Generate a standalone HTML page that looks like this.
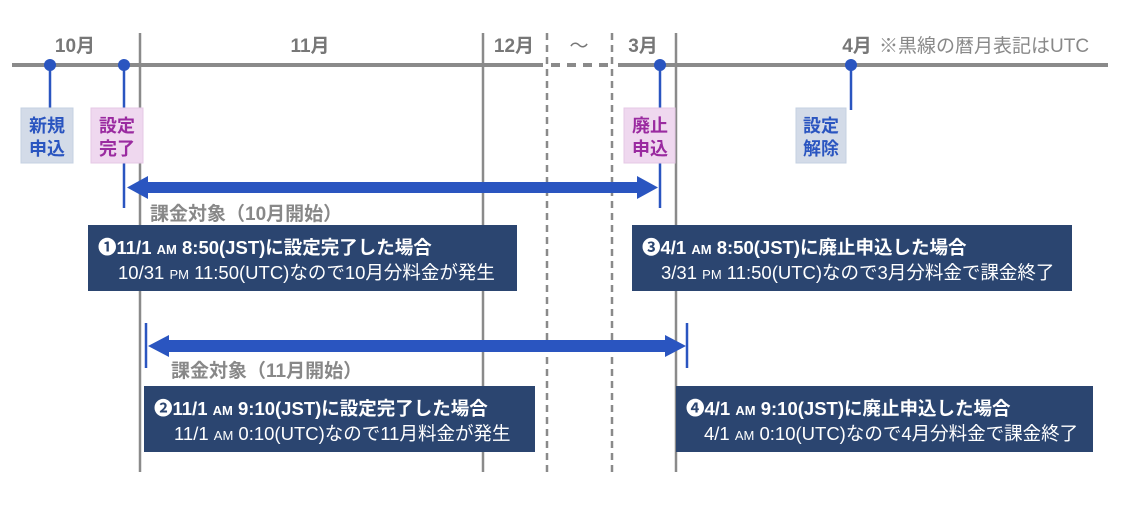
<!DOCTYPE html>
<html><head><meta charset="utf-8">
<style>
html,body{margin:0;padding:0;background:#fff;}
svg{display:block;}
text{font-family:"Liberation Sans","Noto Sans CJK JP",sans-serif;}
</style></head><body>
<svg width="1130" height="521" viewBox="0 0 1130 521" xmlns="http://www.w3.org/2000/svg">
<rect width="1130" height="521" fill="#fff"/>
<g stroke="#8a8a8a" stroke-width="2.5">
<line x1="140" y1="33" x2="140" y2="472"/>
<line x1="483" y1="33" x2="483" y2="472"/>
<line x1="676" y1="33" x2="676" y2="472"/>
<line x1="547" y1="33" x2="547" y2="472" stroke-dasharray="7,5"/>
<line x1="612" y1="33" x2="612" y2="472" stroke-dasharray="7,5"/>
</g>
<g stroke="#8a8a8a" stroke-width="4">
<line x1="12" y1="65" x2="543" y2="65"/>
<line x1="551" y1="65" x2="610" y2="65" stroke-dasharray="9,7"/>
<line x1="618" y1="65" x2="1108" y2="65"/>
</g>
<g fill="#777" font-size="19" font-weight="bold" text-anchor="middle">
<text x="75" y="52">10月</text>
<text x="310" y="52">11月</text>
<text x="514" y="52">12月</text>
<text x="579" y="52" font-weight="normal">〜</text>
<text x="643" y="52">3月</text>
<text x="857" y="52">4月</text>
</g>
<text x="879" y="52" fill="#888" font-size="19">※黒線の暦月表記はUTC</text>
<g stroke="#2a55c0" stroke-width="2.5">
<line x1="50" y1="65" x2="50" y2="110"/>
<line x1="124" y1="65" x2="124" y2="110"/>
<line x1="124" y1="162" x2="124" y2="208"/>
<line x1="660" y1="65" x2="660" y2="110"/>
<line x1="660" y1="162" x2="660" y2="208"/>
<line x1="851" y1="65" x2="851" y2="110"/>
<line x1="146" y1="323" x2="146" y2="368"/>
<line x1="687" y1="323" x2="687" y2="368"/>
</g>
<g fill="#2a55c0">
<circle cx="50" cy="65" r="6"/>
<circle cx="124" cy="65" r="6"/>
<circle cx="660" cy="65" r="6"/>
<circle cx="851" cy="65" r="6"/>
</g>
<rect x="21" y="108" width="52" height="55" fill="#d3dbe8" stroke="#c5d0e2"/>
<rect x="91" y="108" width="52" height="55" fill="#efd8ef" stroke="#e6c8e6"/>
<rect x="624" y="108" width="51" height="55" fill="#efd8ef" stroke="#e6c8e6"/>
<rect x="796" y="108" width="50" height="55" fill="#d3dbe8" stroke="#c5d0e2"/>
<g font-size="18" font-weight="bold" text-anchor="middle">
<text x="47" y="132" fill="#2a55c0">新規</text>
<text x="47" y="155" fill="#2a55c0">申込</text>
<text x="117" y="132" fill="#9a2aa0">設定</text>
<text x="117" y="155" fill="#9a2aa0">完了</text>
<text x="650" y="132" fill="#9a2aa0">廃止</text>
<text x="650" y="155" fill="#9a2aa0">申込</text>
<text x="821" y="132" fill="#2a55c0">設定</text>
<text x="821" y="155" fill="#2a55c0">解除</text>
</g>
<g fill="#2a55c0">
<rect x="145" y="182" width="496" height="11"/>
<polygon points="127,187.5 148,176 148,199"/>
<polygon points="658,187.5 637,176 637,199"/>
<rect x="165" y="340" width="502" height="12"/>
<polygon points="148,346 169,335 169,357"/>
<polygon points="686,346 665,335 665,357"/>
</g>
<g fill="#888" font-size="19" font-weight="bold">
<text x="150" y="220">課金対象（10月開始）</text>
<text x="171" y="377">課金対象（11月開始）</text>
</g>
<g fill="#2b4570">
<rect x="88" y="225" width="429" height="66"/>
<rect x="632" y="225" width="440" height="66"/>
<rect x="144" y="386" width="391" height="66"/>
<rect x="676" y="386" width="417" height="66"/>
</g>
<g fill="#fff" font-size="18.5">
<text x="98" y="254" font-weight="bold">❶11/1 <tspan font-size="13">AM</tspan> 8:50(JST)に設定完了した場合</text>
<text x="118" y="279">10/31 <tspan font-size="13">PM</tspan> 11:50(UTC)なので10月分料金が発生</text>
<text x="642" y="254" font-weight="bold">❸4/1 <tspan font-size="13">AM</tspan> 8:50(JST)に廃止申込した場合</text>
<text x="661" y="279">3/31 <tspan font-size="13">PM</tspan> 11:50(UTC)なので3月分料金で課金終了</text>
<text x="154" y="415" font-weight="bold">❷11/1 <tspan font-size="13">AM</tspan> 9:10(JST)に設定完了した場合</text>
<text x="174" y="440">11/1 <tspan font-size="13">AM</tspan> 0:10(UTC)なので11月料金が発生</text>
<text x="686" y="415" font-weight="bold">❹4/1 <tspan font-size="13">AM</tspan> 9:10(JST)に廃止申込した場合</text>
<text x="704" y="440">4/1 <tspan font-size="13">AM</tspan> 0:10(UTC)なので4月分料金で課金終了</text>
</g>
</svg>
</body></html>
